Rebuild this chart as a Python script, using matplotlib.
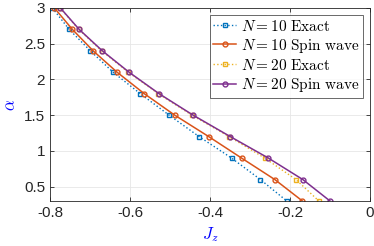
import matplotlib
matplotlib.use("Agg")
import matplotlib.pyplot as plt

# ========================================
# DATA
# ========================================
alpha = [3.0, 2.7, 2.4, 2.1, 1.8, 1.5, 1.2, 0.9, 0.6, 0.3]

jz_n10_exact = [-0.794, -0.752, -0.699, -0.642, -0.574, -0.502, -0.427, -0.346, -0.274, -0.208]
jz_n10_sw = [-0.789, -0.744, -0.692, -0.632, -0.564, -0.488, -0.403, -0.321, -0.238, -0.169]
jz_n20_exact = [-0.775, -0.728, -0.671, -0.604, -0.529, -0.445, -0.352, -0.263, -0.185, -0.128]
jz_n20_sw = [-0.774, -0.727, -0.669, -0.602, -0.527, -0.442, -0.349, -0.254, -0.168, -0.100]

labels = [
    r"$N=10\ \mathrm{Exact}$",
    r"$N=10\ \mathrm{Spin\ wave}$",
    r"$N=20\ \mathrm{Exact}$",
    r"$N=20\ \mathrm{Spin\ wave}$",
]

xticks = [-0.8, -0.6, -0.4, -0.2, 0]
xticklabels = ["-0.8", "-0.6", "-0.4", "-0.2", "0"]
yticks = [0.5, 1, 1.5, 2, 2.5, 3]
yticklabels = ["0.5", "1", "1.5", "2", "2.5", "3"]

# MATLAB default colour order
BLUE = "#0072BD"
ORANGE = "#D95319"
YELLOW = "#EDB120"
PURPLE = "#7E2F8E"

plt.rcParams["font.family"] = ["Liberation Sans", "DejaVu Sans"]
plt.rcParams["mathtext.fontset"] = "cm"

# ========================================
# FIGURE
# ========================================
fig = plt.figure(figsize=(3.74, 2.46), dpi=100)
ax = fig.add_axes([0.1337, 0.183, 0.8556, 0.7845])

ax.plot(jz_n10_exact, alpha, linestyle=":", color=BLUE, lw=1.0,
        marker="s", ms=3.2, mfc="none", mew=1.0, label=labels[0])
ax.plot(jz_n10_sw, alpha, linestyle="-", color=ORANGE, lw=1.1,
        marker="o", ms=3.5, mfc="none", mew=1.0, label=labels[1])
ax.plot(jz_n20_exact, alpha, linestyle=":", color=YELLOW, lw=1.0,
        marker="s", ms=3.2, mfc="none", mew=1.0, label=labels[2])
ax.plot(jz_n20_sw, alpha, linestyle="-", color=PURPLE, lw=1.1,
        marker="o", ms=3.5, mfc="none", mew=1.0, label=labels[3])

ax.set_xlim(-0.8, 0)
ax.set_ylim(0.3, 3)

ax.set_xticks(xticks)
ax.set_xticklabels(xticklabels)
ax.set_yticks(yticks)
ax.set_yticklabels(yticklabels)

ax.tick_params(direction="in", top=True, right=True, labelsize=11,
               length=3, width=0.6, colors="#262626")
for spine in ax.spines.values():
    spine.set_color("#262626")
    spine.set_linewidth(0.6)

ax.grid(True, color="#e6e6e6", linewidth=0.6)
ax.set_axisbelow(True)

ax.set_xlabel(r"$J_z$", color="blue", fontsize=12, labelpad=4)
ax.set_ylabel(r"$\alpha$", color="blue", fontsize=12, labelpad=4)

leg = ax.legend(loc="upper right", fontsize=11, frameon=True, fancybox=False,
                handlelength=1.5, handletextpad=0.3, borderpad=0.25,
                labelspacing=0.2, borderaxespad=0.45)
leg.get_frame().set_edgecolor("#262626")
leg.get_frame().set_linewidth(0.6)

fig.savefig("out.png", dpi=100)
